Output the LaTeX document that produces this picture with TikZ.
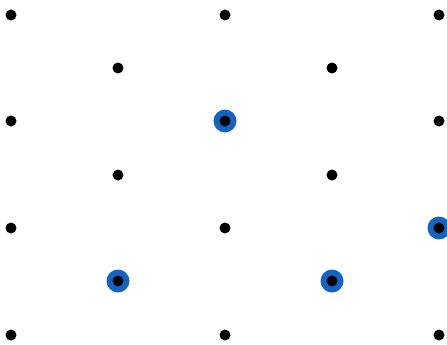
\documentclass[tikz,border=0pt]{standalone}
\definecolor{ringblue}{RGB}{18,100,192}
\begin{document}
\begin{tikzpicture}[x=1pt,y=-1pt,
  dot/.style={circle,fill=black,inner sep=0pt,minimum size=11pt},
  ring/.style={circle,fill=ringblue,inner sep=0pt,minimum size=23pt}]
\useasboundingbox (0,0) rectangle (447,345);
\node[ring] (r1) at (225,121) {};
\node[ring] (r2) at (439,228) {};
\node[ring] (r3) at (118,281) {};
\node[ring] (r4) at (332,281) {};
\foreach \x/\y [count=\i] in {11/15,225/15,439/15,118/68,332/68,11/121,225/121,439/121,118/175,332/175,11/228,225/228,439/228,118/281,332/281,11/335,225/335,439/335}
  \node[dot] (d\i) at (\x,\y) {};
\end{tikzpicture}
\end{document}
